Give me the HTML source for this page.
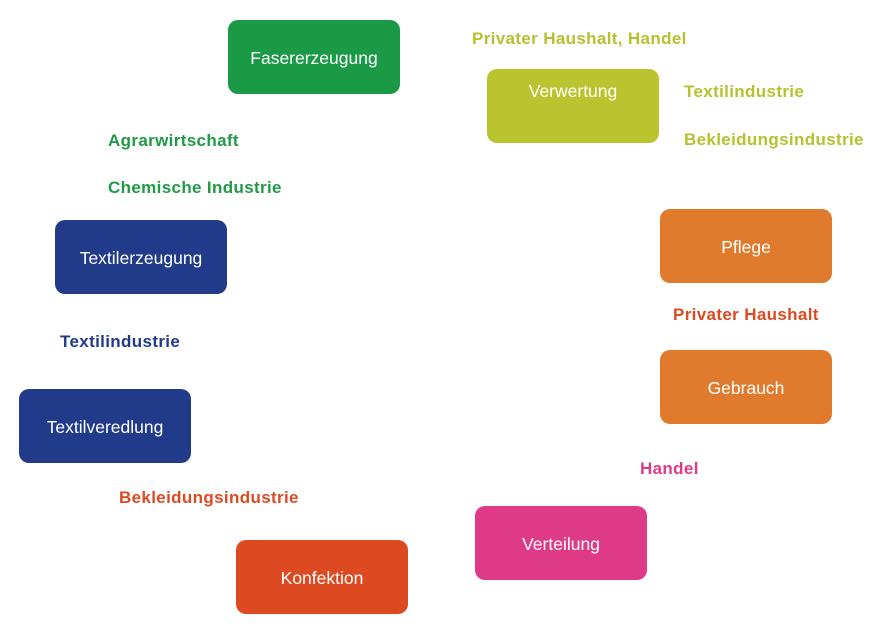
<!DOCTYPE html>
<html><head><meta charset="utf-8"><style>
body{margin:0;width:872px;height:636px;background:#fff;position:relative;overflow:hidden;font-family:"Liberation Sans",sans-serif}
.b{position:absolute;width:172px;height:74px;border-radius:10px;color:#fff;font-size:17.5px;display:flex;align-items:center;justify-content:center;padding-top:3px;box-sizing:border-box}
.l{position:absolute;font-weight:bold;font-size:17px;letter-spacing:0.35px;white-space:nowrap;line-height:20px}
</style></head><body>
<div class="b" style="left:228px;top:20px;background:#1a9a46">Fasererzeugung</div>
<div class="b" style="left:487px;top:69px;background:#bac42e;align-items:flex-start;padding-top:12px">Verwertung</div>
<div class="b" style="left:55px;top:220px;background:#213b8a">Textilerzeugung</div>
<div class="b" style="left:660px;top:209px;background:#e07a2c">Pflege</div>
<div class="b" style="left:660px;top:350px;background:#e07a2c">Gebrauch</div>
<div class="b" style="left:19px;top:389px;background:#213b8a">Textilveredlung</div>
<div class="b" style="left:475px;top:506px;background:#de3a88">Verteilung</div>
<div class="b" style="left:236px;top:540px;background:#dd4a22">Konfektion</div>
<div class="l" style="left:472px;top:29px;color:#b5c12f">Privater Haushalt, Handel</div>
<div class="l" style="left:684px;top:82px;color:#b5c12f">Textilindustrie</div>
<div class="l" style="left:684px;top:130px;color:#b5c12f">Bekleidungsindustrie</div>
<div class="l" style="left:108px;top:131px;color:#1f9a46">Agrarwirtschaft</div>
<div class="l" style="left:108px;top:178px;color:#1f9a46">Chemische Industrie</div>
<div class="l" style="left:60px;top:332px;color:#213b8a">Textilindustrie</div>
<div class="l" style="left:673px;top:305px;color:#dd4a22">Privater Haushalt</div>
<div class="l" style="left:640px;top:459px;color:#de3a88">Handel</div>
<div class="l" style="left:119px;top:488px;color:#dd4a22">Bekleidungsindustrie</div>
</body></html>
